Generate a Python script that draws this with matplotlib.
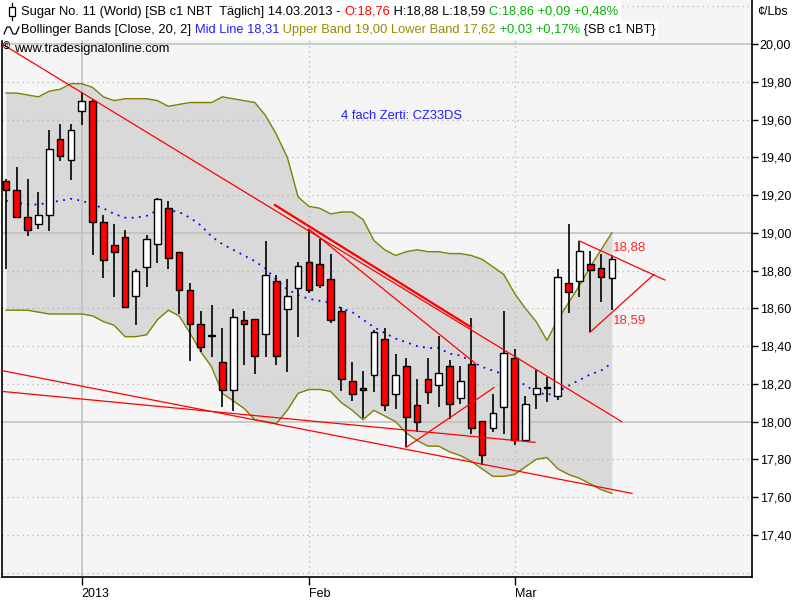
import numpy as np
import matplotlib.pyplot as plt
from matplotlib.patches import Rectangle
from matplotlib.lines import Line2D

plt.rcParams['font.family'] = ['Liberation Sans', 'DejaVu Sans']

# daily candles, 57 sessions (mid Dec 2012 .. 14.03.2013)
opens = [19.273, 19.225, 19.082, 19.045, 19.093, 19.495, 19.384, 19.644, 19.698, 19.056,
         18.934, 18.976, 18.664, 18.820, 18.942, 19.133, 18.897, 18.695, 18.515, 18.452,
         18.314, 18.166, 18.537, 18.542, 18.462, 18.743, 18.595, 18.706, 18.844, 18.833,
         18.754, 18.584, 18.213, 18.176, 18.245, 18.436, 18.145, 18.293, 18.086, 18.224,
         18.192, 18.293, 18.123, 18.303, 18.002, 17.965, 18.076, 18.335, 17.904, 18.145,
         18.176, 18.134, 18.733, 18.743, 18.833, 18.812, 18.76]
highs = [19.283, 19.349, 19.283, 19.216, 19.545, 19.576, 19.576, 19.747, 19.709, 19.094,
         19.047, 19.015, 18.810, 18.988, 19.185, 19.168, 18.900, 18.733, 18.584, 18.616,
         18.497, 18.596, 18.586, 18.545, 18.957, 18.776, 18.755, 18.845, 19.019, 18.966,
         18.888, 18.605, 18.314, 18.266, 18.485, 18.496, 18.356, 18.335, 18.224, 18.338,
         18.452, 18.325, 18.293, 18.547, 18.002, 18.145, 18.586, 18.383, 18.134, 18.272,
         18.238, 18.807, 19.047, 18.957, 18.902, 18.886, 18.88]
lows = [18.807, 19.077, 18.985, 19.022, 19.011, 19.382, 19.281, 19.571, 18.882, 18.762,
        18.660, 18.600, 18.513, 18.714, 18.842, 18.807, 18.572, 18.321, 18.370, 18.344,
        18.076, 18.055, 18.301, 18.254, 18.344, 18.301, 18.264, 18.450, 18.683, 18.706,
        18.524, 18.164, 18.111, 18.017, 18.155, 18.055, 18.065, 17.864, 17.943, 18.092,
        18.076, 18.014, 18.092, 17.933, 17.769, 17.943, 17.933, 17.874, 17.904, 18.065,
        18.102, 18.113, 18.574, 18.662, 18.473, 18.632, 18.59]
closes = [19.225, 19.082, 19.013, 19.093, 19.442, 19.405, 19.543, 19.697, 19.056, 18.854,
          18.897, 18.605, 18.796, 18.966, 19.181, 18.865, 18.695, 18.515, 18.393, 18.452,
          18.166, 18.552, 18.515, 18.346, 18.775, 18.346, 18.664, 18.823, 18.695, 18.722,
          18.537, 18.224, 18.145, 18.166, 18.473, 18.086, 18.245, 18.023, 17.996, 18.155,
          18.256, 18.092, 18.213, 17.965, 17.822, 18.044, 18.362, 17.904, 18.092, 18.176,
          18.176, 18.764, 18.685, 18.902, 18.805, 18.764, 18.86]

# Bollinger Bands (Close, 20, 2)
upper = [19.74, 19.74, 19.73, 19.72, 19.75, 19.76, 19.79, 19.79, 19.77, 19.72,
         19.70, 19.71, 19.71, 19.71, 19.70, 19.67, 19.68, 19.69, 19.69, 19.69,
         19.72, 19.71, 19.70, 19.69, 19.62, 19.52, 19.40, 19.19, 19.14, 19.13,
         19.10, 19.11, 19.11, 19.07, 18.96, 18.91, 18.88, 18.90, 18.91, 18.90,
         18.90, 18.89, 18.89, 18.88, 18.86, 18.82, 18.78, 18.68, 18.60, 18.53,
         18.43, 18.54, 18.63, 18.72, 18.82, 18.91, 19.00]
mid = [19.17, 19.16, 19.15, 19.15, 19.16, 19.17, 19.18, 19.17, 19.15, 19.13,
       19.10, 19.08, 19.08, 19.09, 19.12, 19.12, 19.11, 19.08, 19.04, 18.98,
       18.94, 18.91, 18.88, 18.85, 18.81, 18.75, 18.70, 18.67, 18.65, 18.64,
       18.63, 18.60, 18.58, 18.54, 18.50, 18.47, 18.44, 18.42, 18.40, 18.39,
       18.39, 18.36, 18.35, 18.32, 18.29, 18.27, 18.25, 18.24, 18.19, 18.16,
       18.14, 18.16, 18.19, 18.22, 18.25, 18.27, 18.31]
lower = [18.59, 18.59, 18.59, 18.58, 18.57, 18.57, 18.57, 18.57, 18.56, 18.53,
         18.51, 18.45, 18.45, 18.46, 18.54, 18.59, 18.56, 18.47, 18.37, 18.29,
         18.15, 18.11, 18.07, 18.01, 18.00, 17.99, 18.06, 18.15, 18.17, 18.17,
         18.16, 18.10, 18.06, 18.01, 18.06, 18.03, 18.00, 17.94, 17.90, 17.87,
         17.87, 17.84, 17.82, 17.79, 17.75, 17.71, 17.71, 17.72, 17.76, 17.80,
         17.81, 17.75, 17.72, 17.70, 17.67, 17.64, 17.62]

# hand drawn trend lines: (start idx, start price, end idx, end price)
trend_lines = [
    (-0.37, 20.00, 56.9, 18.00),
    (28.0, 19.02, 43.35, 18.31),
    (-0.37, 18.27, 57.86, 17.62),
    (-0.37, 18.16, 48.9, 17.89),
    (37.0, 17.864, 45.1, 18.18),
    (52.99, 18.957, 60.9, 18.75),
    (53.97, 18.473, 59.9, 18.78),
]
double_line = (24.86, 19.147, 42.98, 18.50)

tick_idx = [7, 28, 47]
tick_text = ['2013', 'Feb', 'Mar']
price_ticks = np.round(np.arange(17.4, 20.01, 0.2), 2)
grid_levels = np.round(np.arange(17.2, 20.21, 0.2), 2)

x = np.arange(len(opens))
o = np.array(opens)
c = np.array(closes)

fig = plt.figure(figsize=(8, 6), dpi=100)
ax = fig.add_axes([2 / 800, 23 / 600, 750 / 800, 577 / 600])
ax.set_facecolor('#f5f5f5')

# band
ax.fill_between(x, lower, upper, color='#d9d9d9', lw=0, zorder=0.3)

# grid
for lv in grid_levels:
    if abs(lv - round(lv)) < 1e-6:
        ax.axhline(lv, color='#b8c2b8', lw=1.1, zorder=0.5)
    else:
        ax.axhline(lv, color='#b4b4b4', lw=0.9, ls=(0, (1, 3)), zorder=0.5)
ax.axvline(tick_idx[0], color='#b8c2b8', lw=1.1, zorder=0.5)
for t in tick_idx[1:]:
    ax.axvline(t, color='#b4b4b4', lw=0.9, ls=(0, (1, 3)), zorder=0.5)

ax.plot(x, upper, color='#808000', lw=1.0, zorder=2)
ax.plot(x, lower, color='#808000', lw=1.0, zorder=2)
ax.plot(x, mid, color='#0000ff', lw=1.3, ls=(0, (1, 3)), zorder=2)

# candles
ax.vlines(x, lows, highs, color='black', lw=1.2, zorder=3)
body_low = np.minimum(o, c)
body_h = np.maximum(np.abs(c - o), 0.006)
colors = np.where(c >= o, 'white', '#ff0000')
ax.bar(x, body_h, bottom=body_low, width=0.62, color=colors,
       edgecolor='black', linewidth=1.0, zorder=4)

# trend lines
for x0, y0, x1, y1 in trend_lines:
    ax.plot([x0, x1], [y0, y1], color='#ff0000', lw=0.9, zorder=5)
ax.plot([double_line[0], double_line[2]], [double_line[1], double_line[3]],
        color='#ff0000', lw=1.6, zorder=5)

ax.text(56.1, 18.92, '18,88', color='#ff2a2a', fontsize=9.5, va='center', ha='left', zorder=6)
ax.text(56.1, 18.535, '18,59', color='#ff2a2a', fontsize=9.5, va='center', ha='left', zorder=6)

ax.set_xlim(-0.37, 68.95)
ax.set_ylim(17.177, 20.233)

ax.yaxis.tick_right()
ax.set_yticks(price_ticks)
ax.set_yticklabels([f'{p:.2f}'.replace('.', ',') for p in price_ticks])
ax.tick_params(axis='y', length=4, width=1, pad=1.5, labelsize=9, colors='black')
ax.set_xticks(tick_idx)
ax.set_xticklabels(tick_text, ha='left')
ax.tick_params(axis='x', length=6, width=1, pad=2, labelsize=9)

for s in ['left', 'right', 'bottom']:
    ax.spines[s].set_linewidth(1.2)
    ax.spines[s].set_color('black')
ax.spines['top'].set_visible(False)

fig.text(757 / 800, 1 - 12 / 600, '¢/Lbs', fontsize=9, va='center', ha='left')

# header
renderer = fig.canvas.get_renderer()


def header_line(x_px, y_px, parts, size=9.3):
    xp = x_px
    for s, col in parts:
        t = fig.text(xp / 800, 1 - y_px / 600, s, color=col, fontsize=size,
                     va='center', ha='left', zorder=5)
        xp += t.get_window_extent(renderer).width
    return xp


green = '#00b400'
end1 = header_line(21, 11.5, [
    ('Sugar No. 11 (World) [SB c1 NBT  Täglich] 14.03.2013 - ', 'black'),
    ('O:18,76', '#ff0000'),
    (' H:18,88 L:18,59 ', 'black'),
    ('C:18,86 +0,09 +0,48%', green)])
end2 = header_line(21, 30, [
    ('Bollinger Bands [Close, 20, 2] ', 'black'),
    ('Mid Line 18,31', '#1f1fff'),
    (' Upper Band 19,00 Lower Band 17,62', '#9a8c00'),
    (' +0,03 +0,17%', green),
    (' {SB c1 NBT}', 'black')])
fig.patches.append(Rectangle((0, 1 - 21 / 600), (end1 + 2) / 800, 21 / 600,
                             transform=fig.transFigure, color='white', zorder=1))
fig.patches.append(Rectangle((0, 1 - 39 / 600), (end2 + 2) / 800, 18 / 600,
                             transform=fig.transFigure, color='white', zorder=1))

# small icons in front of the header lines
fig.add_artist(Line2D([12 / 800, 12 / 800], [1 - 3 / 600, 1 - 20 / 600],
                      color='black', lw=0.9, transform=fig.transFigure, zorder=6))
fig.patches.append(Rectangle((9 / 800, 1 - 16 / 600), 6 / 800, 9 / 600, transform=fig.transFigure,
                             facecolor='white', edgecolor='black', lw=0.9, zorder=7))
wx = np.array([4, 7, 10, 13, 16, 19]) / 800
wy = 1 - np.array([34, 27, 27, 34, 34, 27]) / 600
fig.add_artist(Line2D(wx, wy, color='black', lw=0.9, transform=fig.transFigure, zorder=6))

fig.text(3 / 800, 1 - 47 / 600, '©', fontsize=7, va='center', ha='left', weight='bold')
fig.text(14 / 800, 1 - 49 / 600, 'www.tradesignalonline.com', fontsize=9.3, va='center', ha='left')
fig.text(341 / 800, 1 - 116 / 600, '4 fach Zerti: CZ33DS', fontsize=9.3, color='#1f1fff',
         va='center', ha='left')

fig.savefig('out.png', dpi=100)
